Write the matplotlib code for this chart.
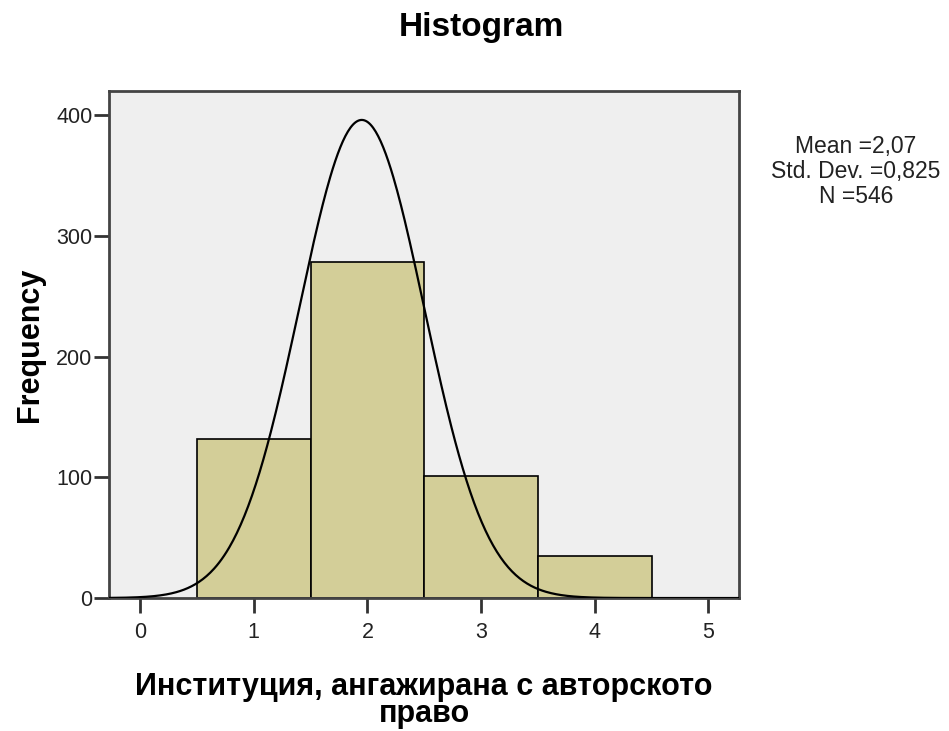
import matplotlib
matplotlib.use('Agg')
import matplotlib.pyplot as plt
import numpy as np

# histogram counts
bin_centers = [1, 2, 3, 4]
counts = [132, 278, 101, 35]
n_total = 546

# fitted normal curve as drawn
curve_mean = 1.95
curve_sd = 0.55

x_ticks = [0, 1, 2, 3, 4, 5]
y_ticks = [0, 100, 200, 300, 400]

stats_text = "Mean =2,07\nStd. Dev. =0,825\nN =546"
x_label = "Институция, ангажирана с авторското\nправо"

plt.rcParams['font.family'] = ['Liberation Sans', 'DejaVu Sans']

fig = plt.figure(figsize=(9.49, 7.31), dpi=100, facecolor='white')
ax = fig.add_axes([0.1149, 0.1819, 0.664, 0.6936])
ax.set_facecolor('#efefef')

ax.bar(bin_centers, counts, width=1.0, color='#d3ce98', edgecolor='black', linewidth=1.2, zorder=2)

xs = np.linspace(-0.27, 5.27, 500)
ys = n_total / (curve_sd * np.sqrt(2 * np.pi)) * np.exp(-0.5 * ((xs - curve_mean) / curve_sd) ** 2)
ax.plot(xs, ys, color='black', linewidth=1.6, zorder=3)

ax.set_xlim(-0.273, 5.27)
ax.set_ylim(0, 420)
ax.set_xticks(x_ticks)
ax.set_yticks(y_ticks)
ax.tick_params(axis='both', direction='out', length=11, width=2, colors='#333333',
               labelsize=15.5, labelcolor='#222222', top=False, right=False)
ax.tick_params(axis='y', pad=1)
ax.tick_params(axis='x', pad=6)

for sp in ax.spines.values():
    sp.set_color('#444444')
    sp.set_linewidth(2)

ax.set_ylabel("Frequency", fontsize=22, fontweight='bold', labelpad=8)
ax.set_xlabel(x_label, fontsize=22, fontweight='bold', labelpad=21, linespacing=0.88)

fig.text(0.507, 0.962, "Histogram", ha='center', va='center', fontsize=24, fontweight='bold')
fig.text(0.902, 0.765, stats_text, ha='center', va='center', fontsize=16.5,
         linespacing=1.12, color='#222222')

fig.savefig('out.png', dpi=100)
